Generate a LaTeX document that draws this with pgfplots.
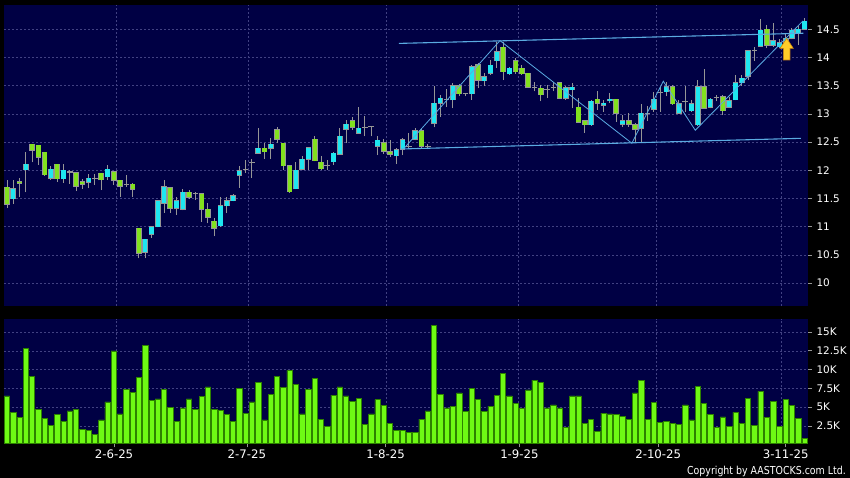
\documentclass[border=0pt]{standalone}
\usepackage{fontspec}
\setmainfont{DejaVu Sans}
\newfontfamily\cfont[FakeStretch=0.86]{DejaVu Sans}
\usepackage{pgfplots}
\pgfplotsset{compat=1.18}
\usepackage{pgfplotstable}

\definecolor{navy}{RGB}{0,0,68}
\definecolor{gridc}{RGB}{65,65,130}
\definecolor{wick}{RGB}{150,150,150}
\definecolor{cup}{RGB}{30,230,240}
\definecolor{cdown}{RGB}{130,225,30}
\definecolor{volg}{RGB}{110,250,20}
\definecolor{vole}{RGB}{45,130,0}
\definecolor{trend}{RGB}{90,170,225}
\definecolor{arrowf}{RGB}{255,205,40}
\definecolor{arrowd}{RGB}{200,130,20}

\pgfplotstableread{
i O H L C
0 11.70 11.83 11.33 11.40
1 11.50 11.83 11.40 11.67
2 11.80 11.86 11.53 11.77
3 12.01 12.33 11.61 12.11
4 12.46 12.47 12.14 12.36
5 12.44 12.45 12.10 12.23
6 12.32 12.33 11.90 11.92
7 11.86 12.07 11.83 12.02
8 12.11 12.12 11.80 11.85
9 11.85 12.11 11.78 12.00
10 11.97 12.01 11.76 11.97
11 11.96 11.97 11.64 11.72
12 11.80 11.84 11.67 11.75
13 11.79 11.94 11.68 11.86
14 11.85 11.94 11.74 11.85
15 11.95 11.96 11.65 11.83
16 11.89 12.10 11.83 12.02
17 11.97 11.98 11.74 11.82
18 11.82 11.83 11.53 11.72
19 11.74 11.92 11.71 11.74
20 11.75 11.78 11.53 11.66
21 10.97 10.97 10.44 10.53
22 10.55 10.79 10.44 10.78
23 10.87 11.00 10.80 11.00
24 11.00 11.48 10.99 11.46
25 11.42 11.83 11.25 11.71
26 11.69 11.71 11.25 11.33
27 11.33 11.53 11.21 11.46
28 11.31 11.67 11.29 11.61
29 11.61 11.65 11.49 11.52
30 11.59 11.62 11.48 11.59
31 11.58 11.58 11.09 11.31
32 11.31 11.42 11.06 11.17
33 11.10 11.15 10.83 10.97
34 11.02 11.53 11.00 11.375
35 11.37 11.52 11.24 11.46
36 11.46 11.58 11.45 11.55
37 11.91 12.07 11.69 11.99
38 12.01 12.18 11.96 12.01
39 12.13 12.20 11.87 12.13
40 12.30 12.75 12.29 12.39
41 12.39 12.48 12.20 12.33
42 12.39 12.57 12.20 12.46
43 12.72 12.76 12.48 12.55
44 12.48 12.48 12.00 12.08
45 12.08 12.09 11.60 11.62
46 11.67 12.14 11.66 12.00
47 12.02 12.25 12.00 12.20
48 12.20 12.42 12.00 12.40
49 12.55 12.60 12.16 12.17
50 12.14 12.25 12.01 12.03
51 12.08 12.18 12.01 12.08
52 12.155 12.33 12.10 12.30
53 12.285 12.745 12.28 12.60
54 12.73 12.89 12.48 12.82
55 12.875 12.95 12.72 12.76
56 12.66 13.13 12.65 12.745
57 12.76 12.96 12.60 12.76
58 12.77 12.78 12.60 12.77
59 12.43 12.60 12.27 12.53
60 12.49 12.55 12.29 12.34
61 12.33 12.53 12.24 12.285
62 12.255 12.39 12.11 12.36
63 12.37 12.57 12.27 12.54
64 12.42 12.67 12.40 12.42
65 12.55 12.745 12.53 12.70
66 12.70 12.745 12.39 12.43
67 12.42 12.47 12.37 12.42
68 12.83 13.50 12.76 13.19
69 13.19 13.34 12.95 13.28
70 13.25 13.45 13.13 13.25
71 13.25 13.54 13.10 13.50
72 13.50 13.53 13.31 13.355
73 13.355 13.36 13.31 13.355
74 13.355 13.87 13.25 13.84
75 13.87 13.90 13.455 13.60
76 13.59 13.73 13.50 13.66
77 13.72 13.96 13.69 13.86
78 13.945 14.28 13.81 14.10
79 14.18 14.28 13.60 13.75
80 13.71 13.84 13.69 13.81
81 13.945 13.99 13.71 13.75
82 13.81 13.87 13.69 13.71
83 13.72 13.73 13.455 13.47
84 13.47 13.57 13.40 13.47
85 13.455 13.51 13.22 13.34
86 13.43 13.51 13.28 13.43
87 13.47 13.57 13.40 13.47
88 13.555 13.57 13.26 13.28
89 13.28 13.50 13.25 13.465
90 13.43 13.545 13.10 13.47
91 13.12 13.28 12.85 12.85
92 12.88 12.88 12.67 12.805
93 12.805 13.25 12.79 13.22
94 13.26 13.41 13.07 13.19
95 13.155 13.25 13.04 13.19
96 13.23 13.37 13.19 13.26
97 13.26 13.26 12.86 13.01
98 12.82 12.98 12.775 12.88
99 12.88 13.01 12.775 12.82
100 12.805 12.83 12.48 12.73
101 12.745 13.18 12.48 13.01
102 13.01 13.14 12.88 13.01
103 13.08 13.38 13.04 13.26
104 13.38 13.48 13.04 13.38
105 13.395 13.57 13.31 13.48
106 13.48 13.51 13.16 13.18
107 13.01 13.25 13.00 13.18
108 13.22 13.50 13.04 13.22
109 13.055 13.25 13.04 13.18
110 12.805 13.60 12.79 13.48
111 13.48 13.79 13.10 13.10
112 13.12 13.29 13.10 13.26
113 13.295 13.34 13.22 13.295
114 13.305 13.34 12.98 13.055
115 13.12 13.305 13.10 13.235
116 13.25 13.69 13.24 13.555
117 13.555 13.69 13.50 13.63
118 13.67 14.13 13.60 14.12
119 14.12 14.18 13.945 14.12
120 14.20 14.69 14.19 14.48
121 14.50 14.58 14.16 14.22
122 14.22 14.61 14.19 14.30
123 14.19 14.32 14.16 14.26
124 14.26 14.44 14.22 14.34
125 14.34 14.52 14.32 14.48
126 14.42 14.56 14.22 14.50
127 14.50 14.70 14.49 14.64
}\candles

\pgfplotstableread{
i V
0 6.5
1 4.3
2 3.6
3 12.8
4 9.1
5 4.7
6 3.5
7 2.6
8 4.0
9 3.1
10 4.5
11 4.7
12 2.0
13 1.95
14 1.4
15 3.3
16 5.7
17 12.5
18 4.1
19 7.4
20 7.0
21 9.0
22 13.2
23 5.9
24 6.1
25 7.4
26 5.0
27 3.1
28 4.9
29 6.1
30 4.7
31 6.4
32 7.7
33 4.7
34 4.6
35 4.0
36 3.1
37 7.5
38 4.2
39 5.7
40 8.3
41 3.3
42 6.7
43 9.1
44 7.6
45 9.9
46 8.0
47 4.1
48 7.4
49 8.8
50 3.4
51 2.4
52 6.6
53 7.7
54 6.5
55 5.8
56 6.2
57 2.7
58 4.1
59 6.0
60 5.2
61 2.8
62 1.9
63 1.9
64 1.6
65 1.6
66 3.4
67 4.5
68 15.9
69 6.7
70 4.9
71 5.1
72 6.9
73 4.4
74 7.5
75 6.0
76 4.4
77 5.1
78 6.6
79 9.5
80 6.5
81 5.5
82 4.8
83 7.3
84 8.6
85 8.3
86 4.9
87 5.3
88 4.9
89 2.3
90 6.5
91 6.5
92 2.8
93 3.4
94 1.8
95 4.2
96 4.1
97 4.0
98 3.8
99 3.4
100 6.9
101 8.6
102 3.4
103 5.6
104 3.0
105 3.1
106 2.9
107 2.7
108 5.3
109 3.3
110 7.8
111 5.5
112 4.0
113 2.3
114 3.7
115 2.4
116 4.3
117 2.9
118 6.2
119 2.6
120 7.1
121 3.6
122 5.8
123 2.5
124 6.0
125 5.2
126 3.5
127 0.9
}\vol

\begin{document}
\begin{tikzpicture}
\useasboundingbox (0,0) rectangle (850bp,-478bp);
\fill[black] (0,0) rectangle (850bp,-478bp);

\begin{axis}[
  at={(4bp,-5bp)}, anchor=north west,
  width=804bp, height=301bp, scale only axis,
  xmin=-0.48, xmax=127.55, ymin=9.594, ymax=14.931,
  axis background/.style={fill=navy},
  axis line style={draw=none},
  xtick={17.4,38.42,60.4,81.42,103.4,123.36}, xticklabels={},
  x tick style={draw=none},
  ytick={10,10.5,11,11.5,12,12.5,13,13.5,14,14.5},
  ytick pos=right, yticklabel pos=right,
  tick align=outside, major tick length=4bp,
  y tick style={draw=wick, line width=0.7bp},
  grid=major,
  major grid style={draw=gridc, dash pattern=on 2bp off 2bp, line width=0.6bp},
  tick label style={font=\fontsize{10.5}{12}\selectfont, text=white},
  yticklabel style={xshift=1bp},
  /pgf/number format/assume math mode=true,
  colormap={cdl}{rgb255=(130,225,30) rgb255=(30,230,240)},
  point meta min=-0.0001, point meta max=0.0001,
]
% wicks
\addplot[draw=wick, line width=1bp, quiver={u=0, v=\thisrow{H}-\thisrow{L}}]
  table[x=i, y=L]{\candles};
% body outlines
\addplot[draw=wick, line width=5.6bp, quiver={u=0, v=abs(\thisrow{C}-\thisrow{O})+0.018}]
  table[x=i, y expr={min(\thisrow{O},\thisrow{C})-0.009}]{\candles};
% bodies
\addplot[line width=4.2bp, point meta={\thisrow{C}-\thisrow{O}},
  quiver={u=0, v=\thisrow{C}-\thisrow{O}, colored}]
  table[x=i, y=O]{\candles};
% trend lines
\addplot[draw=trend, line width=1.1bp] coordinates {(62.4,14.25) (126.8,14.43)};
\addplot[draw=trend, line width=1.1bp] coordinates {(62.7,12.378) (126.4,12.567)};
\addplot[draw=trend, line width=0.8bp] coordinates {(63.3,12.40) (78.5,14.30) (99.5,12.48) (104.5,13.58) (109.6,12.71) (126.75,14.65)};
% arrow
\addplot[fill=arrowf, draw=arrowd, line width=0.6bp] coordinates {
  (124.16,14.34) (125.21,14.163) (124.68,14.163) (124.68,13.956)
  (123.63,13.956) (123.63,14.163) (123.09,14.163)} --cycle;
\end{axis}

\begin{axis}[
  at={(4bp,-319bp)}, anchor=north west,
  width=804bp, height=124.3bp, scale only axis,
  xmin=-0.48, xmax=127.55, ymin=0.2, ymax=16.73,
  axis background/.style={fill=navy},
  axis line style={draw=none},
  xtick={17.04,38.2,60.3,81.6,103.7,124.0},
  xticklabels={2-6-25,2-7-25,1-8-25,1-9-25,2-10-25,3-11-25},
  xtick pos=bottom,
  xmajorgrids=false,
  extra x ticks={17.4,38.42,60.4,81.42,103.4,123.36},
  extra x tick labels={},
  extra x tick style={grid=major, tick style={draw=none}},
  ytick={2.5,5,7.5,10,12.5,15},
  yticklabels={2.5K,5K,7.5K,10K,12.5K,15K},
  ymajorgrids=true,
  ytick pos=right, yticklabel pos=right,
  tick align=outside, major tick length=4bp,
  tick style={draw=wick, line width=0.7bp},
  major grid style={draw=gridc, dash pattern=on 2bp off 2bp, line width=0.6bp},
  tick label style={font=\fontsize{10.5}{12}\selectfont, text=white},
  xticklabel style={font=\fontsize{11.8}{13}\selectfont, yshift=1bp},
  yticklabel style={xshift=1bp},
]
\addplot[ybar, bar width=5.3bp, fill=volg, draw=vole, line width=0.6bp]
  table[x=i, y=V]{\vol};
\end{axis}

\node[anchor=east, text=white, font=\cfont\fontsize{11}{13}\selectfont, inner sep=0pt]
  at (846bp,-471.7bp) {Copyright by AASTOCKS.com Ltd.};
\end{tikzpicture}
\end{document}
